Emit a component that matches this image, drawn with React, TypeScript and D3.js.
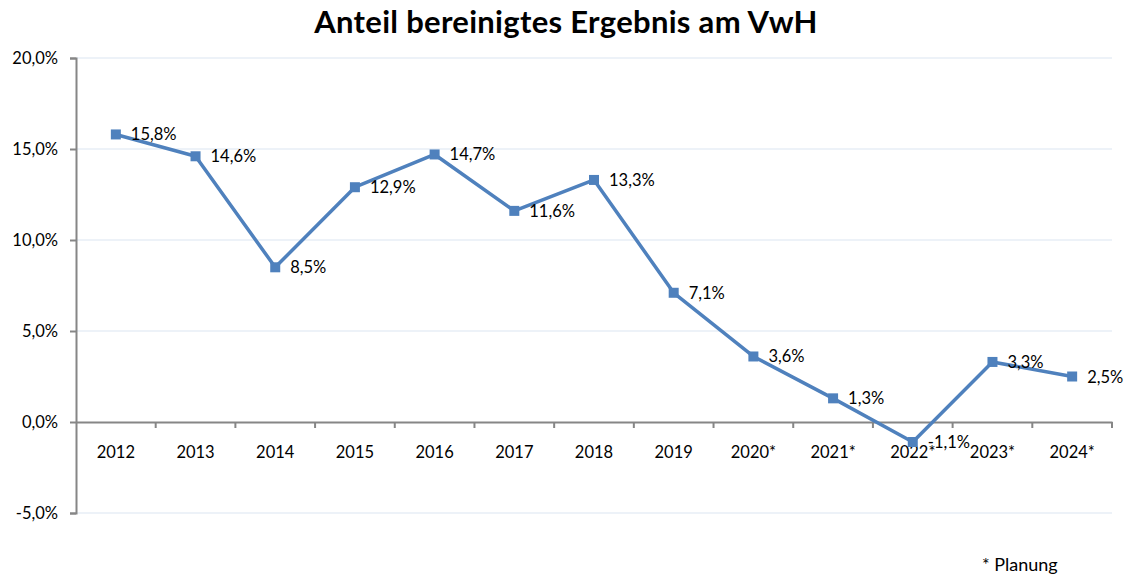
import { useEffect, useRef } from 'react';
import * as d3 from 'd3';

const years = ['2012', '2013', '2014', '2015', '2016', '2017', '2018', '2019', '2020*', '2021*', '2022*', '2023*', '2024*'];
const shares = [15.8, 14.6, 8.5, 12.9, 14.7, 11.6, 13.3, 7.1, 3.6, 1.3, -1.1, 3.3, 2.5];
const yTicks = [-5, 0, 5, 10, 15, 20];

const fmt = (v: number, digits = 1) => v.toFixed(digits).replace('.', ',') + '%';

const App = () => {
  const svgRef = useRef<SVGSVGElement | null>(null);
  const width = 1136;
  const height = 577;

  useEffect(() => {
    const svg = d3.select(svgRef.current);
    svg.selectAll('*').remove();

    const margin = { top: 58, right: 24, bottom: 64, left: 76 };
    const chartWidth = width - margin.left - margin.right;
    const chartHeight = height - margin.top - margin.bottom;
    const font = 'Lato, Calibri, Carlito, sans-serif';
    const fontSize = '16.5px';

    // Title
    svg.append('text')
      .attr('x', 566)
      .attr('y', 33)
      .attr('text-anchor', 'middle')
      .style('font-family', font)
      .style('font-weight', 'bold')
      .style('font-size', '31px')
      .style('letter-spacing', '0.3px')
      .style('fill', '#000')
      .text('Anteil bereinigtes Ergebnis am VwH');

    const g = svg.append('g')
      .attr('transform', `translate(${margin.left},${margin.top})`);

    const xScale = d3.scaleBand()
      .domain(years)
      .range([0, chartWidth])
      .padding(0);

    const yScale = d3.scaleLinear()
      .domain([-5, 20])
      .range([chartHeight, 0]);

    // Gridlines
    g.selectAll('.grid')
      .data(yTicks.filter(t => t !== 0))
      .enter()
      .append('line')
      .attr('x1', 0)
      .attr('x2', chartWidth)
      .attr('y1', d => yScale(d))
      .attr('y2', d => yScale(d))
      .attr('stroke', '#dbe5f1')
      .attr('stroke-width', 1);

    // Y axis
    const yAxis = g.append('g')
      .call(d3.axisLeft(yScale).tickValues(yTicks).tickSize(6).tickFormat(d => fmt(d as number)));
    yAxis.selectAll('text')
      .attr('x', -18)
      .style('font-family', font)
      .style('font-size', fontSize)
      .style('fill', '#000');

    // X axis on zero line
    const xAxis = g.append('g')
      .attr('transform', `translate(0,${yScale(0)})`)
      .call(d3.axisBottom(xScale).tickSize(0));
    xAxis.selectAll('text')
      .attr('y', 24)
      .style('font-family', font)
      .style('font-size', fontSize)
      .style('fill', '#000');
    xAxis.selectAll('.tick-mark')
      .data(d3.range(1, years.length + 1))
      .enter()
      .append('line')
      .attr('class', 'tick-mark')
      .attr('x1', i => i * xScale.bandwidth())
      .attr('x2', i => i * xScale.bandwidth())
      .attr('y1', 0)
      .attr('y2', 6);

    // Style axes
    g.selectAll('.domain, .tick line, .tick-mark')
      .attr('stroke', '#868686')
      .attr('stroke-width', 2);

    const cx = (d: string) => (xScale(d) ?? 0) + xScale.bandwidth() / 2;

    // Line
    const line = d3.line<number>()
      .x((_, i) => cx(years[i]))
      .y(d => yScale(d));

    g.append('path')
      .datum(shares)
      .attr('d', line)
      .attr('fill', 'none')
      .attr('stroke', '#4f81bd')
      .attr('stroke-width', 3.5)
      .attr('stroke-linejoin', 'round');

    // Markers
    g.selectAll('.marker')
      .data(shares)
      .enter()
      .append('rect')
      .attr('class', 'marker')
      .attr('x', (_, i) => cx(years[i]) - 5)
      .attr('y', d => yScale(d) - 5)
      .attr('width', 10)
      .attr('height', 10)
      .attr('fill', '#4f81bd');

    // Value labels
    g.selectAll('.value-label')
      .data(shares)
      .enter()
      .append('text')
      .attr('class', 'value-label')
      .attr('x', (_, i) => cx(years[i]) + 15)
      .attr('y', d => yScale(d) + 6)
      .style('font-family', font)
      .style('font-size', fontSize)
      .style('fill', '#000')
      .text(d => fmt(d));

    // Footnote
    svg.append('text')
      .attr('x', 982)
      .attr('y', 571)
      .style('font-family', font)
      .style('font-size', '18px')
      .style('fill', '#000')
      .text('* Planung');
  }, []);

  return (
    <div style={{ position: 'absolute', left: 0, top: 0 }}>
      <svg ref={svgRef} width={width} height={height} style={{ display: 'block', background: '#fff' }} />
    </div>
  );
};

export default App;
